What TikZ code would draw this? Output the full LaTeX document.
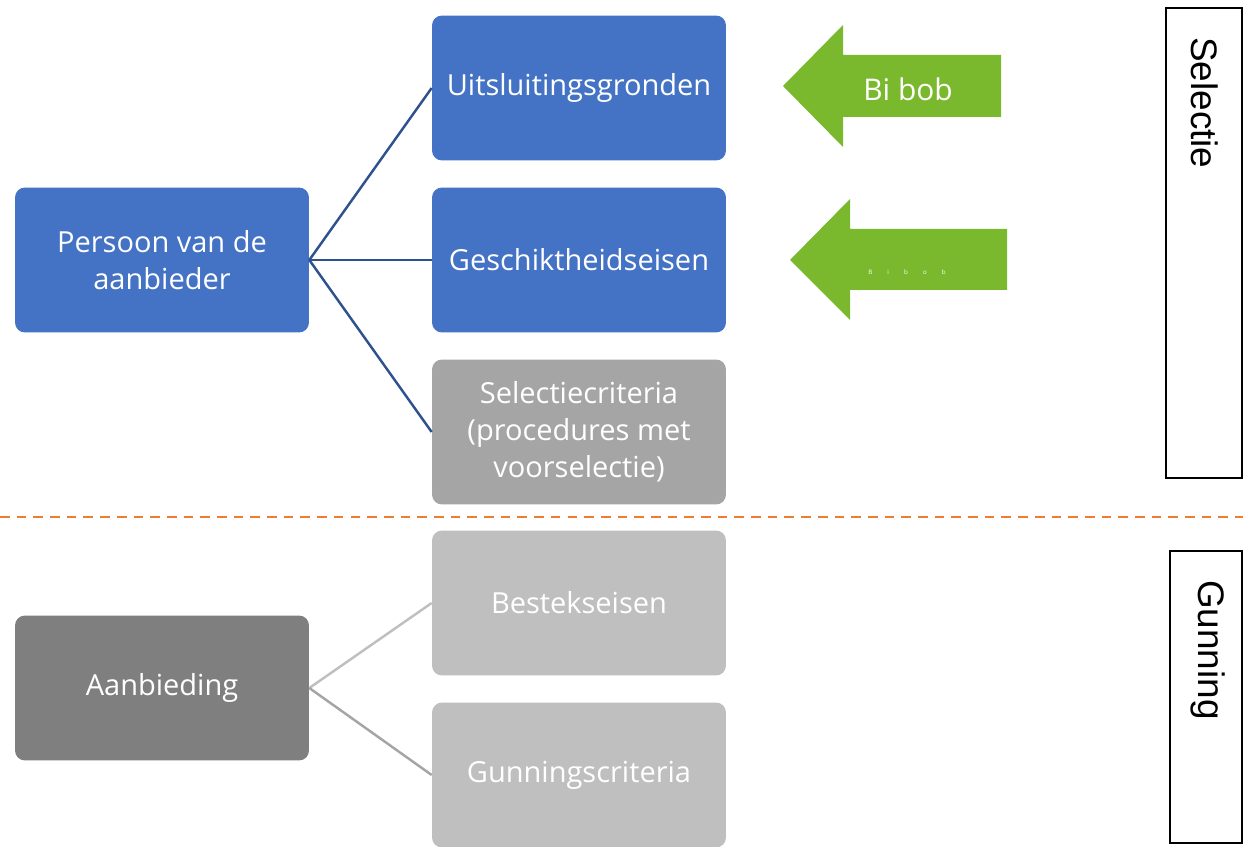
\documentclass[tikz,border=0pt]{standalone}
\usepackage{fontspec}
\setmainfont{Open Sans}
\newfontfamily\sidefont{Liberation Sans}
\definecolor{boxblue}{HTML}{4472C4}
\definecolor{lineblue}{HTML}{2F528F}
\definecolor{midgray}{HTML}{A5A5A5}
\definecolor{lightgray}{HTML}{BFBFBF}
\definecolor{darkgray}{HTML}{7F7F7F}
\definecolor{arrowgreen}{HTML}{7AB92D}
\definecolor{dashorange}{HTML}{ED7D31}
\begin{document}
\begin{tikzpicture}[x=0.02cm,y=-0.02cm,
  box/.style={rounded corners=0.2cm, minimum width=5.88cm, minimum height=2.9cm,
    text=white, align=center, font=\fontsize{16.5}{21}\selectfont, inner sep=0pt},
  sidebox/.style={draw=black, line width=0.8pt, fill=white, inner sep=0pt},
  link/.style={line width=1.4pt}]
\useasboundingbox (0,0) rectangle (1243,847);

% left blocks
\node[box, fill=boxblue] (pers) at (162,260) {Persoon van de\\aanbieder};
\node[box, fill=darkgray] (aanb) at (162,688) {Aanbieding};

% middle blocks
\node[box, fill=boxblue] (uits) at (579,88) {Uitsluitingsgronden};
\node[box, fill=boxblue] (gesch) at (579,260) {Geschiktheidseisen};
\node[box, fill=midgray] (selc) at (579,432) {Selectiecriteria\\(procedures met\\voorselectie)};
\node[box, fill=lightgray] (best) at (579,603) {Bestekseisen};
\node[box, fill=lightgray] (gunc) at (579,775) {Gunningscriteria};

\draw[link, lineblue] (pers.east) -- (uits.west);
\draw[link, lineblue] (pers.east) -- (gesch.west);
\draw[link, lineblue] (pers.east) -- (selc.west);
\draw[link, lightgray] (aanb.east) -- (best.west);
\draw[link, midgray] (aanb.east) -- (gunc.west);

% green arrows
\fill[arrowgreen] (783,86) -- (843,25) -- (843,55) -- (1001,55) -- (1001,117)
  -- (843,117) -- (843,147) -- cycle;
\node[text=white, font=\fontsize{17}{20}\selectfont] (bibob1) at (908,89) {Bi bob};
\fill[arrowgreen] (790,260) -- (850,199) -- (850,229) -- (1007,229) -- (1007,290)
  -- (850,290) -- (850,320) -- cycle;
\node[text=white, font=\fontsize{3.5}{4}\selectfont] (bibob2) at (907,272)
  {B\hspace{8.6pt}i\hspace{8.6pt}b\hspace{8.6pt}o\hspace{8.6pt}b};

% dashed separator
\draw[dashorange, line width=1.6pt, dash pattern=on 5.5pt off 4pt] (0,517) -- (1243,517);

% side labels
\draw[sidebox] (1166,8) rectangle (1242,478);
\node[rotate=-90, anchor=west, font=\sidefont\fontsize{21}{24}\selectfont] (sel) at (1205,31) {Selectie};
\draw[sidebox] (1170,551) rectangle (1242,843);
\node[rotate=-90, anchor=west, font=\sidefont\fontsize{21}{24}\selectfont] (gun) at (1208,574) {Gunning};
\end{tikzpicture}
\end{document}
